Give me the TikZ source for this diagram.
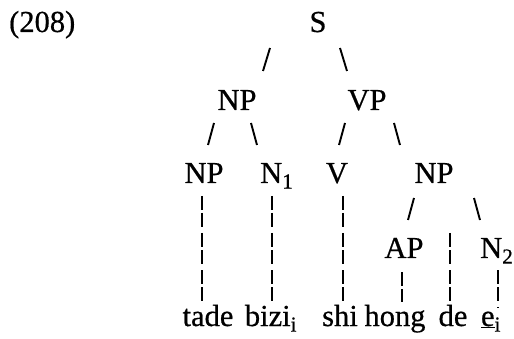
\documentclass[tikz,border=0pt]{standalone}
\usepackage{fontspec}
\setmainfont{Liberation Serif}[FakeBold=0.6]
\usetikzlibrary{calc}
\begin{document}
\begin{tikzpicture}[x=1pt,y=-1pt,
  every node/.style={inner sep=0pt, font=\fontsize{30.5}{36}\selectfont},
  lab/.style={anchor=base},
  labw/.style={anchor=base west},
  branch/.style={line width=1.9pt},
  stem/.style={line width=1.9pt, dash pattern=on 14pt off 3pt on 14pt off 6pt}]
\useasboundingbox (0,0) rectangle (514,339);

% example number
\node[labw] (ex) at (9,32) {(208)};

% tree labels
\node[lab]  (S)   at (318,32)  {S};
\node[lab]  (NPs) at (237,110) {NP};
\node[lab]  (VP)  at (367,110) {VP};
\node[lab]  (NPp) at (204,183) {NP};
\node[labw] (N1)  at (260,183) {N\textsubscript{1}};
\node[lab]  (V)   at (337,183) {V};
\node[lab]  (NPo) at (434,183) {NP};
\node[lab]  (AP)  at (404,258) {AP};
\node[labw] (N2)  at (480,258) {N\textsubscript{2}};

% terminal string
\node[lab] (w1) at (208,326) {tade};
\node[lab] (w2) at (271,326) {bizi\textsubscript{i}};
\node[lab] (w3) at (340,326) {shi};
\node[lab] (w4) at (395,326) {hong};
\node[lab] (w5) at (453,326) {de};
\node[lab] (w6) at (491,326) {\underline{e}\textsubscript{i}};

% slanted branches
\draw[branch] ($(S.base)+(-48,16)$) -- ++(-7,23);
\draw[branch] ($(S.base)+(22,16)$) -- ++(7,23);
\draw[branch] ($(NPs.base)+(-23,13)$) -- ++(-6,22);
\draw[branch] ($(NPs.base)+(14,13)$) -- ++(6,22);
\draw[branch] ($(VP.base)+(-22,13)$) -- ++(-6,22);
\draw[branch] ($(VP.base)+(27,13)$) -- ++(6,22);
\draw[branch] ($(NPo.base)+(-20,15)$) -- ++(-6,22);
\draw[branch] ($(NPo.base)+(40,15)$) -- ++(6,22);

% tops of the vertical stems
\coordinate (sNPp) at ($(NPp.base)+(-2,13)$);
\coordinate (sN1)  at ($(N1.base west)+(12,13)$);
\coordinate (sV)   at ($(V.base)+(6,13)$);
\coordinate (sAP)  at ($(AP.base)+(-2,14)$);
\coordinate (sde)  at (450,233);
\coordinate (sN2)  at ($(N2.base west)+(18,12)$);

% vertical stems down to the words
\foreach \t/\w in {sNPp/w1, sN1/w2, sV/w3, sAP/w4, sde/w5, sN2/w6}
  \draw[stem] (\t) -- ([yshift=3pt]\t |- \w.north);
\end{tikzpicture}
\end{document}
